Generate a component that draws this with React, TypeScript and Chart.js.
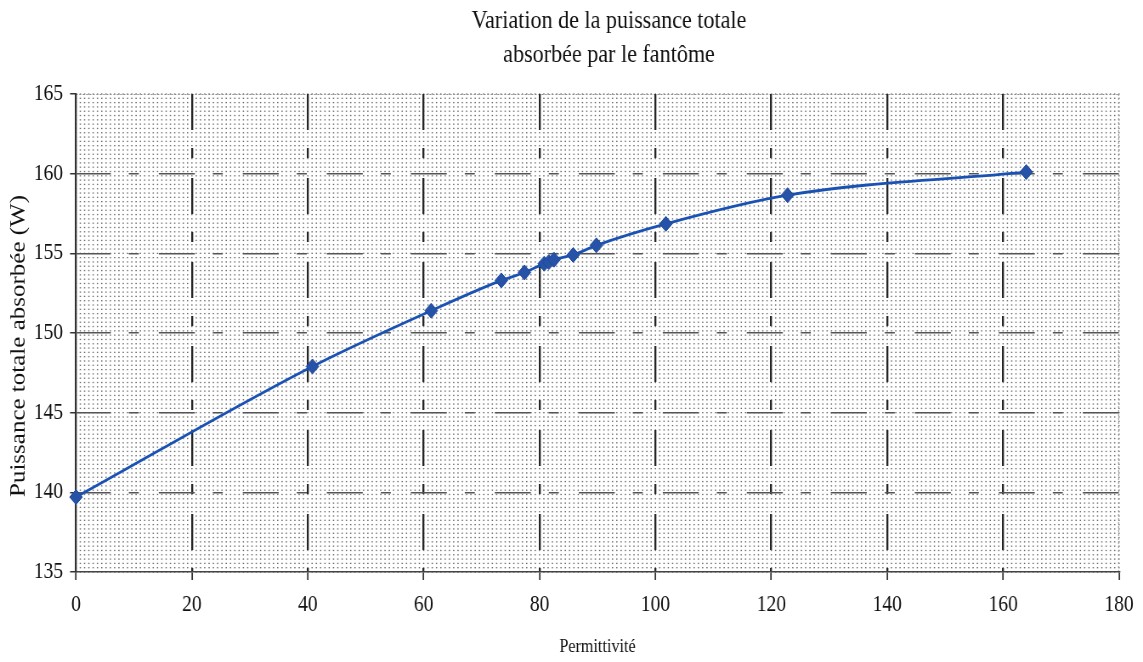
import React, { useEffect, useRef } from 'react';
import { Chart, registerables } from 'chart.js';

Chart.register(...registerables);

// ---- data ----
const TITLE_LINES = ['Variation de la puissance totale', 'absorbée par le fantôme'];
const X_TITLE = 'Permittivité';
const Y_TITLE = 'Puissance totale absorbée (W)';
const PERMITTIVITY = [0, 40.8, 61.3, 73.4, 77.4, 80.8, 81.6, 82.5, 85.8, 89.8, 101.8, 122.8, 164.0];
const POWER = [139.7, 147.9, 151.4, 153.3, 153.8, 154.35, 154.45, 154.6, 154.9, 155.5, 156.85, 158.65, 160.1];
const X_TICK_VALUES = [0, 20, 40, 60, 80, 100, 120, 140, 160, 180];
const Y_TICK_VALUES = [135, 140, 145, 150, 155, 160, 165];

// ---- geometry (the canvas is drawn wider and squeezed horizontally) ----
const OUT_W = 1143;
const H = 662;
const S = 0.85;
const IN_W = Math.round(OUT_W / S);
const sx = (px: number) => (px * IN_W) / OUT_W;

const FONT = '"Liberation Serif", "Times New Roman", serif';

const dotsPlugin = {
  id: 'dotPattern',
  beforeDraw(chart: any) {
    const { ctx, chartArea: a } = chart;
    const stepX = sx(4.3);
    const stepY = 4.3;
    const nx = Math.round((a.right - a.left) / stepX);
    const ny = Math.round((a.bottom - a.top) / stepY);
    const dx = (a.right - a.left) / nx;
    const dy = (a.bottom - a.top) / ny;
    ctx.save();
    ctx.fillStyle = '#6a6a6a';
    const w = sx(1.3);
    const h = 1.3;
    for (let j = 0; j <= ny; j++) {
      const y = a.top + j * dy;
      for (let i = 0; i <= nx; i++) {
        ctx.fillRect(a.left + i * dx - w / 2, y - h / 2, w, h);
      }
    }
    ctx.strokeStyle = '#888';
    ctx.lineWidth = 1;
    ctx.setLineDash([2, 2]);
    ctx.beginPath();
    ctx.moveTo(a.left, a.top + 0.5);
    ctx.lineTo(a.right, a.top + 0.5);
    ctx.moveTo(a.right - 0.5, a.top);
    ctx.lineTo(a.right - 0.5, a.bottom);
    ctx.stroke();
    ctx.restore();
  },
};

const textPlugin = {
  id: 'customTexts',
  afterDraw(chart: any) {
    const { ctx, chartArea: a } = chart;
    ctx.save();
    ctx.fillStyle = '#111';
    ctx.textAlign = 'center';
    ctx.textBaseline = 'alphabetic';
    ctx.font = `26px ${FONT}`;
    TITLE_LINES.forEach((t, i) => ctx.fillText(t, sx(609), 28 + i * 34));
    ctx.font = `19px ${FONT}`;
    ctx.fillText(X_TITLE, (a.left + a.right) / 2, 652);
    ctx.translate(sx(19), 346);
    ctx.rotate(-Math.PI / 2);
    ctx.textBaseline = 'middle';
    ctx.font = `25px ${FONT}`;
    ctx.fillText(Y_TITLE, 0, 0);
    ctx.restore();
  },
};

export default function App() {
  const ref = useRef<HTMLCanvasElement | null>(null);

  useEffect(() => {
    if (!ref.current) return;
    const chart = new Chart(ref.current, {
      type: 'line',
      data: {
        datasets: [
          {
            data: PERMITTIVITY.map((x, i) => ({ x, y: POWER[i] })),
            borderColor: '#1a52b4',
            borderWidth: 2.8,
            backgroundColor: '#2653a8',
            pointBackgroundColor: '#2653a8',
            pointBorderColor: '#1d4a9c',
            pointBorderWidth: 1,
            pointStyle: 'rectRot',
            pointRadius: 7.5,
            cubicInterpolationMode: 'monotone',
            clip: false as any,
          },
        ],
      },
      options: {
        responsive: false,
        animation: false,
        devicePixelRatio: 1,
        events: [],
        layout: {
          padding: { top: 94, left: 0, bottom: 0, right: IN_W - sx(1123) },
        },
        plugins: {
          legend: { display: false },
          title: { display: false },
          tooltip: { enabled: false },
        },
        scales: {
          x: {
            type: 'linear',
            min: X_TICK_VALUES[0],
            max: X_TICK_VALUES[X_TICK_VALUES.length - 1],
            afterBuildTicks: (s: any) => {
              s.ticks = X_TICK_VALUES.map((v) => ({ value: v }));
            },
            afterFit: (s: any) => {
              s.height = H - 572;
            },
            ticks: {
              color: '#111',
              font: { family: FONT, size: 23 },
              padding: 11,
              maxRotation: 0,
              autoSkip: false,
            },
            grid: {
              color: (c: any) =>
                c.tick && (c.tick.value === 0 || c.tick.value === 180) ? 'rgba(0,0,0,0)' : '#262626',
              lineWidth: sx(2),
              drawTicks: true,
              tickLength: 8,
              tickColor: '#333',
              tickWidth: sx(1.5),
              tickBorderDash: [],
            },
            border: { display: true, color: '#444', width: 1.6, dash: [36, 18, 10, 20], dashOffset: 0 },
          },
          y: {
            type: 'linear',
            min: Y_TICK_VALUES[0],
            max: Y_TICK_VALUES[Y_TICK_VALUES.length - 1],
            afterBuildTicks: (s: any) => {
              s.ticks = Y_TICK_VALUES.map((v) => ({ value: v }));
            },
            afterFit: (s: any) => {
              s.width = sx(76);
            },
            ticks: {
              color: '#111',
              font: { family: FONT, size: 23 },
              padding: sx(76) - 7 - sx(63),
              autoSkip: false,
            },
            grid: {
              color: (c: any) =>
                c.tick && (c.tick.value === 135 || c.tick.value === 165) ? 'rgba(0,0,0,0)' : '#555',
              lineWidth: 1.5,
              drawTicks: true,
              tickLength: 7,
              tickColor: '#333',
              tickWidth: 1.5,
              tickBorderDash: [],
            },
            border: {
              display: true,
              color: '#333',
              width: sx(2),
              dash: [sx(36), sx(18), sx(10), sx(20)],
              dashOffset: sx(2),
            },
          },
        },
      },
      plugins: [dotsPlugin, textPlugin],
    } as any);
    return () => chart.destroy();
  }, []);

  return (
    <canvas
      ref={ref}
      width={IN_W}
      height={H}
      style={{ position: 'fixed', left: 0, top: 0, width: `${OUT_W}px`, height: `${H}px` }}
    />
  );
}
